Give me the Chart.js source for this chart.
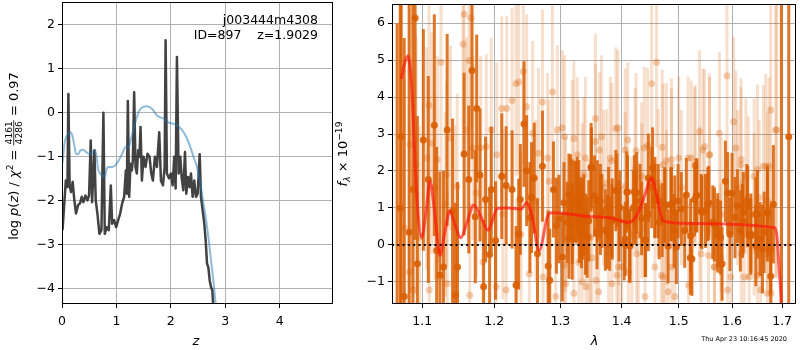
<!DOCTYPE html>
<html lang="en">
<head>
<meta charset="UTF-8">
<title>j003444m4308 redshift fit</title>
<script src="https://cdn.jsdelivr.net/npm/chart.js"></script>
<style>
    body { margin: 0; background: #fff; }
    #wrap { position: relative; width: 800px; height: 350px; }
    canvas { position: absolute; top: 0; }
    #pz { left: 0; }
    #spec { left: 330px; }
</style>
</head>
<body>
<div id="wrap">
    <canvas id="pz" width="340" height="350"></canvas>
    <canvas id="spec" width="470" height="350"></canvas>
</div>
<script>
// ---- left panel: log p(z) ----
const zMin = 0, zMax = 4.98;
const lnpMin = -4.357, lnpMax = 2.51;
const zTicks = [0, 1, 2, 3, 4];
const lnpTicks = [-4, -3, -2, -1, 0, 1, 2];

const zDark = [0.01,0.04,0.07,0.10,0.117,0.14,0.165,0.196,0.227,0.258,0.295,0.331,0.362,0.393,0.430,0.467,0.497,0.528,0.553,0.596,
    0.620,0.651,0.688,0.725,0.761,0.786,0.823,0.860,0.897,0.921,0.958,0.995,1.032,1.069,1.105,1.142,1.173,1.191,1.210,1.234,
    1.259,1.283,1.302,1.326,1.351,1.375,1.400,1.424,1.443,1.468,1.498,1.535,1.572,1.609,1.640,1.670,1.707,1.744,1.787,1.818,
    1.855,1.886,1.904,1.928,1.965,2.002,2.033,2.063,2.088,2.112,2.143,2.174,2.198,2.229,2.260,2.284,2.315,2.345,2.370,2.401,
    2.431,2.462,2.493,2.530,2.554,2.585,2.615,2.640,2.665,2.689,2.714,2.738,2.763,2.787,2.810];
const lnpDark = [-2.68,-2.11,-1.55,-1.70,0.42,-1.66,-1.81,-1.58,-2.00,-2.30,-2.11,-2.07,-1.92,-2.04,-1.89,-2.00,-1.89,-0.64,-2.04,-0.86,
    -2.00,-2.30,-2.76,-2.68,-0.01,-2.76,-2.61,-2.68,-1.66,-2.53,-2.45,-2.61,-2.45,-2.30,-2.07,-1.92,-1.32,-1.85,0.26,-1.92,
    -1.17,-1.32,-1.09,0.46,-1.24,-1.39,-0.86,-1.01,-0.33,-1.55,-1.01,-1.24,-0.94,-1.01,-1.39,-1.55,-1.01,-1.24,-0.45,-1.55,
    -1.66,-1.24,1.64,-1.39,-1.50,-1.39,-1.66,-1.01,-1.73,1.26,-1.39,-1.01,-1.47,-1.77,-0.90,-1.85,-1.47,-1.70,-1.39,-1.92,
    -1.55,-1.92,-1.85,-0.95,-1.92,-2.23,-2.53,-2.91,-3.44,-3.52,-3.82,-3.97,-4.05,-4.60,-5.00];

const zBlue = [0.01,0.047,0.096,0.145,0.18,0.22,0.258,0.295,0.344,0.393,0.442,0.491,0.553,0.596,0.627,0.663,0.700,0.737,0.786,0.823,
    0.860,0.921,0.983,1.044,1.105,1.167,1.228,1.277,1.326,1.375,1.424,1.486,1.547,1.609,1.670,1.744,1.805,1.879,1.959,2.051,
    2.143,2.223,2.284,2.358,2.419,2.480,2.542,2.591,2.640,2.689,2.738,2.787,2.824,2.850];
const lnpBlue = [-1.15,-0.70,-0.52,-0.45,-0.49,-0.70,-0.94,-0.95,-0.86,-0.85,-0.90,-0.94,-0.92,-0.86,-0.94,-1.28,-1.39,-1.43,-1.47,-1.28,
    -1.24,-1.24,-1.20,-1.09,-0.94,-0.79,-0.79,-0.56,-0.33,-0.11,0.05,0.12,0.14,0.12,0.06,-0.07,-0.11,-0.15,-0.23,-0.26,
    -0.32,-0.43,-0.56,-0.79,-1.02,-1.24,-1.62,-2.00,-2.38,-2.83,-3.36,-3.89,-4.36,-4.70];

// ---- right panel: spectrum ----
const waveMin = 1.0604, waveMax = 1.7288;
const fluxMin = -1.6, fluxMax = 6.52;
const waveTicks = [1.1, 1.2, 1.3, 1.4, 1.5, 1.6, 1.7];
const fluxTicks = [-1, 0, 1, 2, 3, 4, 5, 6];

const darkWave = [1.0670,1.0723,1.0762,1.0826,1.0905,1.0935,1.1014,1.1080,1.1161,1.1193,
    1.1237,1.1285,1.1336,1.1410,1.1450,1.1479,1.1570,1.1636,1.1682,1.1728,
    1.1748,1.1795,1.1847,1.1875,1.1933,1.1957,1.2019,1.2110,1.2174,1.2262,
    1.2321,1.2385,1.2440,1.2480,1.2530,1.2645,1.2721,1.2809,1.2834,1.2891,
    1.2938,1.2978,1.3030,1.3135,1.3188,1.3251,1.3304,1.3358,1.3428,1.3492,
    1.3547,1.3596,1.3645,1.3727,1.3781,1.3841,1.3902,1.3958,1.4043,1.4088,
    1.4144,1.4201,1.4258,1.4316,1.4402,1.4460,1.4518,1.4575,1.4633,1.4703,
    1.4750,1.4810,1.4870,1.4929,1.4989,1.5049,1.5110,1.5140,1.5213,1.5292,
    1.5335,1.5415,1.5495,1.5557,1.5663,1.5726,1.5809,1.5872,1.5916,1.5961,
    1.6000,1.6058,1.6162,1.6220,1.6304,1.6370,1.6468,1.6501,1.6600,1.6701,
    1.6768,1.6821,1.6985,1.7137,1.0710,1.0875,
    1.2360,1.2554,1.2595,1.3057,1.3108,1.3135,1.3162,1.3187,1.3198,1.3241,
    1.3267,1.3294,1.3321,1.3337,1.3374,1.3401,1.3454,1.3498,1.3589,1.3644,
    1.3671,1.3760,1.3800,1.3836,1.3920,1.3970,1.4060,1.4100,1.4133,1.4218,
    1.4240,1.4343,1.4412,1.4459,1.4534,1.4576,1.4650,1.4752,1.4858,1.4917,
    1.4958,1.5219,1.5243,1.5321,1.5427,1.5538,1.5632,1.5726,1.5780,1.6108,
    1.6205,1.6289,1.6368,1.6466,1.6554,1.6634,1.6700,1.6766];
const darkFlux = [-2.0,2.93,-1.40,0.34,6.14,-0.51,2.84,1.77,3.24,-0.15,
    -0.82,-0.60,3.11,0.92,-1.36,-0.60,2.46,1.77,4.72,0.76,
    3.69,1.89,-1.13,1.23,-0.26,1.50,0.12,1.86,1.61,1.50,
    -1.09,1.23,3.27,2.01,0.74,-0.24,2.13,-0.57,-0.96,1.50,
    0.52,0.70,-0.33,0.18,0.58,1.14,0.61,0.70,0.21,2.10,
    1.32,1.19,0.83,0.40,1.01,0.70,1.47,0.65,0.04,1.43,
    -0.02,1.01,1.41,1.19,0.13,1.81,1.55,1.28,1.19,0.67,
    1.10,-0.04,1.10,0.88,1.19,0.97,0.38,1.35,-0.35,1.23,
    1.34,0.92,0.92,1.14,0.55,0.25,-0.51,1.72,1.41,0.29,
    1.39,0.74,0.38,0.88,1.04,0.29,-0.02,0.83,-0.11,0.85,
    -0.85,1.10,-2.0,2.93,1.0,1.5,
    0.29,1.28,1.81,1.14,0.61,1.37,1.35,0.16,1.19,1.17,
    1.28,1.20,0.74,0.47,0.81,0.29,0.65,2.08,0.34,1.19,
    0.92,0.35,0.30,0.65,1.47,1.01,0.16,1.43,-0.02,1.44,
    1.01,0.72,0.13,0.83,2.08,1.20,0.61,1.05,1.10,0.38,
    -0.06,0.25,-0.38,1.34,0.88,1.10,0.61,0.40,0.20,1.05,
    0.65,1.19,0.25,0.83,0.16,0.34,0.88,-0.11];
const darkErr = [8,7,7,7,6,4,3,2.8,3,2.8,
    2.8,2.6,2.6,2.5,2.5,2.3,2.2,2.0,2.4,1.8,
    2.0,1.8,1.8,1.7,1.7,1.7,1.6,1.7,1.6,1.6,
    1.6,1.5,1.7,1.5,1.5,1.5,1.5,1.5,1.4,1.3,
    1.3,1.2,1.2,1.1,1.1,1.1,1.1,1.1,1.1,1.2,
    1.1,1.1,1.1,1.1,1.1,1.1,1.1,1.1,1.0,1.1,
    1.0,1.0,1.1,1.0,1.0,1.2,1.1,1.1,1.0,1.0,
    1.0,1.0,1.0,1.0,1.0,1.0,1.0,1.0,1.0,1.0,
    1.0,1.0,1.0,1.0,1.0,1.0,1.0,1.1,1.1,1.0,
    1.1,1.1,1.1,1.1,1.1,1.1,1.1,1.2,1.2,1.3,
    1.3,1.6,9,9,9,8,
    1.5,1.5,1.5,1.1,1.1,1.1,1.1,1.1,1.1,1.1,
    1.1,1.1,1.1,1.1,1.1,1.1,1.1,1.1,1.0,1.0,
    1.0,1.0,1.0,1.0,1.0,1.0,1.0,1.0,1.0,1.0,
    1.0,1.0,1.0,1.0,1.1,1.0,1.0,1.0,1.0,1.0,
    1.0,1.0,1.0,1.0,1.0,1.0,1.0,1.0,1.0,1.0,
    1.0,1.0,1.0,1.0,1.0,1.1,1.2,1.2];

const lightWave = [1.0762,1.0830,1.0838,1.0880,1.0917,1.0964,1.1058,1.1089,1.1093,1.1125,
    1.1170,1.1202,1.1251,1.1310,1.1327,1.1336,1.1382,1.1441,1.1474,1.1556,
    1.1570,1.1603,1.1640,1.1650,1.1668,1.1696,1.1743,1.1804,1.1837,1.1885,
    1.1957,1.2028,1.2038,1.2110,1.2125,1.2174,1.2184,1.2262,1.2321,1.2330,
    1.2361,1.2395,1.2430,1.2480,1.2520,1.2570,1.2620,1.2660,1.2721,1.2730,
    1.2799,1.2824,1.2876,1.2927,1.2952,1.3066,1.3082,1.3188,1.3214,1.3283,
    1.3347,1.3400,1.3410,1.3455,1.3563,1.3575,1.3662,1.3700,1.3808,1.3836,
    1.3902,1.3947,1.4003,1.4060,1.4173,1.4230,1.4345,1.4390,1.4402,1.4518,
    1.4604,1.4691,1.4721,1.4780,1.4870,1.4929,1.5001,1.5049,1.5170,1.5180,
    1.5305,1.5385,1.5446,1.5569,1.5663,1.5758,1.5790,1.5903,1.5916,1.6032,
    1.6110,1.6175,1.6239,1.6318,1.6435,1.6501,1.6566,1.6667,1.6701,1.6768,
    1.6775,1.6868,
    1.3030,1.3057,1.3083,1.3214,1.3267,1.3294,1.3346,1.3374,1.3482,1.3508,
    1.3563,1.3617,1.3628,1.3753,1.3781,1.3836,1.3919,1.3936,1.3947,1.4060,
    1.4104,1.4116,1.4247,1.4257,1.4286,1.4343,1.4447,1.4576,1.4634,1.4704,
    1.4721,1.4752,1.4780,1.4810,1.4869,1.4875,
    1.5230,1.5292,1.5384,1.5414,1.5477,1.5551,1.5571,1.5664,1.5788,1.5979,
    1.6075,1.6173,1.6180,1.6270,1.6336,1.6435,1.6500,1.6534,1.6620,1.6700,
    1.6734,1.6888];
const lightFlux = [0.47,-0.73,2.71,-1.22,2.17,0.21,2.35,3.78,-1.22,2.75,
    1.55,2.31,4.94,1.10,1.90,-1.05,2.89,0.74,1.59,5.43,
    6.24,3.11,4.99,-1.36,6.15,2.62,1.41,2.62,-0.46,2.66,
    3.11,-1.13,2.44,3.69,0.83,-1.22,3.69,3.91,4.36,-1.05,
    4.41,0.29,4.69,3.74,-0.78,3.02,1.19,2.48,3.87,-0.87,
    2.35,1.72,4.14,-1.40,3.11,2.93,0.83,2.26,-1.31,1.72,
    1.19,2.35,-1.13,0.21,3.42,-0.96,2.93,1.55,2.35,-1.05,
    3.15,1.01,-0.60,2.57,0.29,2.04,1.19,2.62,-1.40,4.36,
    4.94,-0.82,2.17,1.01,2.31,-1.40,2.35,1.55,2.35,-1.09,
    2.13,1.10,2.57,2.44,-0.60,3.02,0.83,4.58,-1.22,3.33,
    1.55,2.31,-0.87,1.28,0.83,2.04,-1.22,2.13,1.19,3.65,
    -1.31,3.11,
    3.17,-0.55,-1.05,2.88,2.44,-0.47,-1.00,1.90,0.20,-0.35,
    2.80,-1.27,2.57,1.68,0.29,2.28,-0.82,3.17,-0.60,1.59,
    2.84,-0.73,2.55,-0.24,0.25,1.86,2.69,-0.60,1.68,2.64,
    -0.87,0.12,2.28,-1.27,2.13,-0.60,
    2.35,2.17,3.07,-0.24,2.66,-0.29,2.44,-0.60,-0.33,-0.87,
    2.62,2.17,-0.24,1.86,-0.87,1.86,-0.82,1.28,2.13,-1.31,
    2.13,3.11];
const lightErr = [4,4,4,3.5,3.5,3,3,3,3,3,
    2.5,2.8,3,2.5,2.5,2.5,2.5,2.5,2.5,3,
    3,2.5,3,2.5,3,2.5,2.3,2.5,2.3,2.5,
    2.5,2.3,2.5,2.5,2.3,2.3,2.5,2.5,2.5,2.3,
    2.5,2.2,2.5,2.5,2.2,2.5,2.2,2.3,2.5,2.2,
    2.3,2.2,2.5,2.2,2.3,2.2,2.1,2.2,2.2,2.2,
    2.1,2.2,2.2,2.1,2.3,2.2,2.2,2.1,2.2,2.2,
    2.2,2.1,2.2,2.2,2.1,2.2,2.1,2.2,2.2,2.2,
    2.3,2.2,2.2,2.1,2.2,2.2,2.2,2.1,2.2,2.2,
    2.2,2.1,2.2,2.2,2.2,2.2,2.1,2.5,2.2,2.3,
    2.1,2.2,2.2,2.2,2.2,2.3,2.3,2.5,2.4,3,
    2.5,4,
    2.1,2.1,2.1,2.1,2.1,2.1,2.1,2.1,2.0,2.0,
    2.1,2.1,2.1,2.0,2.0,2.1,2.0,2.1,2.0,2.0,
    2.1,2.0,2.1,2.0,2.0,2.0,2.1,2.0,2.0,2.1,
    2.0,2.0,2.1,2.1,2.1,2.0,
    2.1,2.1,2.2,2.0,2.1,2.0,2.1,2.0,2.0,2.1,
    2.1,2.1,2.0,2.1,2.1,2.1,2.1,2.1,2.2,2.3,
    2.4,4];

const modelWave = [1.0723,1.0760,1.0810,1.0862,1.0918,1.0993,1.1050,1.1103,1.1170,1.1237,
    1.1300,1.1373,1.1450,1.1524,1.1610,1.1706,1.1800,1.1908,1.2052,1.2200,
    1.2395,1.2479,1.2565,1.2671,1.2813,1.2875,1.3535,1.3781,1.4116,1.4257,
    1.4402,1.4516,1.4603,1.4721,1.5170,1.6835,1.6888,1.6936,1.6983,1.7010];
const modelFlux = [4.49,4.85,5.12,4.20,1.64,0.20,0.90,1.72,0.80,-0.29,
    0.30,0.92,0.50,0.19,0.60,1.08,0.80,0.40,0.99,1.00,
    0.97,1.14,0.75,-0.15,0.83,0.87,0.76,0.74,0.61,0.79,
    1.37,1.81,1.37,0.65,0.58,0.47,0.30,-0.60,-1.60,-3.00];

const FONT = '"DejaVu Sans", sans-serif';
const TICK_SIZE = 12.5;

function fnt(size, italic) {
    return (italic ? 'italic ' : '') + size + 'px ' + FONT;
}

function minus(v) {
    return String(v).replace('-', '\u2212');
}

// mathtext-ish label: list of pieces drawn side by side, centred on (x, y) baseline
function drawMath(ctx, parts, x, y, angle, size) {
    const small = size * 0.7;
    ctx.save();
    ctx.translate(x, y);
    ctx.rotate(angle);
    ctx.fillStyle = '#000';
    ctx.strokeStyle = '#000';
    ctx.textBaseline = 'alphabetic';
    ctx.textAlign = 'left';
    const widths = parts.map(p => {
        if (p.frac) {
            ctx.font = fnt(small);
            return Math.max(ctx.measureText(p.frac[0]).width, ctx.measureText(p.frac[1]).width) + 2;
        }
        ctx.font = fnt(p.sup || p.sub ? small : size, p.it);
        return ctx.measureText(p.t).width;
    });
    let cx = -widths.reduce((a, b) => a + b, 0) / 2;
    parts.forEach((p, i) => {
        if (p.frac) {
            const axis = -size * 0.33;
            ctx.font = fnt(small);
            ctx.textAlign = 'center';
            ctx.fillText(p.frac[0], cx + widths[i] / 2, axis - 1.5);
            ctx.fillText(p.frac[1], cx + widths[i] / 2, axis + 1.5 + small * 0.73);
            ctx.textAlign = 'left';
            ctx.lineWidth = 0.8;
            ctx.beginPath();
            ctx.moveTo(cx, axis);
            ctx.lineTo(cx + widths[i], axis);
            ctx.stroke();
        } else {
            ctx.font = fnt(p.sup || p.sub ? small : size, p.it);
            const dy = p.sup ? -size * 0.38 : (p.sub ? size * 0.22 : 0);
            ctx.fillText(p.t, cx, dy);
        }
        cx += widths[i];
    });
    ctx.restore();
}

function frameBox(chart) {
    const { ctx, chartArea: a } = chart;
    ctx.save();
    ctx.strokeStyle = '#000';
    ctx.lineWidth = 1;
    ctx.strokeRect(Math.round(a.left) + 0.5, Math.round(a.top) + 0.5,
        Math.round(a.right - a.left) - 1, Math.round(a.bottom - a.top) - 1);
    ctx.restore();
}

function axis(min, max, ticks, fmt, pad, extra) {
    return Object.assign({
        min: min,
        max: max,
        afterBuildTicks: s => { s.ticks = ticks.map(v => ({ value: v })); },
        grid: { color: '#b0b0b0', lineWidth: 1, tickColor: '#000', tickLength: 4 },
        border: { display: false },
        ticks: { color: '#000', font: { family: FONT, size: TICK_SIZE }, padding: pad,
                 maxRotation: 0, autoSkip: false, callback: v => fmt(v) }
    }, extra);
}

const xFit = s => { s.height = 46; s.paddingLeft = 0; s.paddingRight = 0; };
const yFit = s => { s.width = 62; s.paddingTop = 0; s.paddingBottom = 0; };

// ---- p(z) chart ----
new Chart(document.getElementById('pz'), {
    type: 'line',
    data: {
        datasets: [{
            data: zDark.map((z, i) => ({ x: z, y: lnpDark[i] })),
            borderColor: 'rgba(45,45,45,0.9)',
            borderWidth: 2.5,
            borderJoinStyle: 'round',
            pointRadius: 0,
            order: 2
        }, {
            data: zBlue.map((z, i) => ({ x: z, y: lnpBlue[i] })),
            borderColor: 'rgba(31,119,180,0.5)',
            borderWidth: 2,
            pointRadius: 0,
            tension: 0.4,
            cubicInterpolationMode: 'monotone',
            order: 1
        }]
    },
    options: {
        responsive: false,
        animation: false,
        layout: { padding: { left: 0, right: 7, top: 2, bottom: 0 } },
        plugins: { legend: { display: false }, tooltip: { enabled: false } },
        scales: {
            x: axis(zMin, zMax, zTicks, minus, 6, { type: 'linear', afterFit: xFit }),
            y: axis(lnpMin, lnpMax, lnpTicks, minus, 3, { type: 'linear', afterFit: yFit })
        }
    },
    plugins: [{
        id: 'pzDecor',
        afterDraw(chart) {
            frameBox(chart);
            const ctx = chart.ctx;
            ctx.save();
            ctx.fillStyle = '#000';
            ctx.font = fnt(12.5);
            ctx.textAlign = 'right';
            ctx.textBaseline = 'alphabetic';
            ctx.fillText('j003444m4308', 318, 24);
            ctx.fillText('ID=897    z=1.9029', 318, 39);
            ctx.restore();
            drawMath(ctx, [{ t: 'z', it: true }], 196, 345, 0, 13);
            drawMath(ctx, [
                { t: 'log ' }, { t: 'p', it: true }, { t: '(' }, { t: 'z', it: true },
                { t: ') / ' }, { t: '\u03c7', it: true }, { t: '2', sup: true }, { t: ' = ' },
                { frac: ['4161', '4286'] }, { t: ' = 0.97' }
            ], 18, 156, -Math.PI / 2, 13);
        }
    }]
});

// ---- spectrum chart ----
const errorBars = {
    id: 'errorBars',
    beforeDatasetDraw(chart, args) {
        const ds = chart.data.datasets[args.index];
        if (!ds.errors) return;
        const { ctx, chartArea: a } = chart;
        const xs = chart.scales.x, ys = chart.scales.y;
        ctx.save();
        ctx.beginPath();
        ctx.rect(a.left, a.top, a.right - a.left, a.bottom - a.top);
        ctx.clip();
        ctx.strokeStyle = ds.errorColor;
        ctx.lineWidth = 3;
        ds.data.forEach((p, i) => {
            const px = xs.getPixelForValue(p.x);
            ctx.beginPath();
            ctx.moveTo(px, ys.getPixelForValue(p.y - ds.errors[i]));
            ctx.lineTo(px, ys.getPixelForValue(p.y + ds.errors[i]));
            ctx.stroke();
        });
        ctx.restore();
    }
};

new Chart(document.getElementById('spec'), {
    type: 'scatter',
    data: {
        datasets: [{
            data: lightWave.map((w, i) => ({ x: w, y: lightFlux[i] })),
            errors: lightErr,
            errorColor: 'rgba(217,95,2,0.2)',
            backgroundColor: 'rgba(217,95,2,0.3)',
            pointRadius: 3.5,
            pointBorderWidth: 0,
            order: 4
        }, {
            data: darkWave.map((w, i) => ({ x: w, y: darkFlux[i] })),
            errors: darkErr,
            errorColor: 'rgba(217,95,2,0.85)',
            backgroundColor: 'rgba(217,95,2,0.9)',
            pointRadius: 3.5,
            pointBorderWidth: 0,
            order: 3
        }, {
            type: 'line',
            data: modelWave.map((w, i) => ({ x: w, y: modelFlux[i] })),
            borderColor: 'rgba(255,20,10,0.65)',
            borderWidth: 3,
            pointRadius: 0,
            tension: 0.4,
            cubicInterpolationMode: 'monotone',
            order: 2
        }, {
            type: 'line',
            data: [{ x: waveMin, y: 0 }, { x: waveMax, y: 0 }],
            borderColor: '#000',
            borderWidth: 2,
            borderDash: [2, 3.3],
            pointRadius: 0,
            order: 1
        }]
    },
    options: {
        responsive: false,
        animation: false,
        layout: { padding: { left: 0, right: 1, top: 2, bottom: 0 } },
        plugins: { legend: { display: false }, tooltip: { enabled: false } },
        scales: {
            x: axis(waveMin, waveMax, waveTicks, v => v.toFixed(1), 6, { type: 'logarithmic', afterFit: xFit }),
            y: axis(fluxMin, fluxMax, fluxTicks, minus, 3, { type: 'linear', afterFit: yFit })
        }
    },
    plugins: [errorBars, {
        id: 'specDecor',
        afterDraw(chart) {
            frameBox(chart);
            const ctx = chart.ctx;
            drawMath(ctx, [{ t: '\u03bb', it: true }], 264.7, 345, 0, 13);
            drawMath(ctx, [
                { t: 'f', it: true }, { t: '\u03bb', it: true, sub: true },
                { t: ' \u00d7 10' }, { t: '\u221219', sup: true }
            ], 17, 154, -Math.PI / 2, 13);
            ctx.save();
            ctx.fillStyle = '#000';
            ctx.font = fnt(6.5);
            ctx.textAlign = 'right';
            ctx.fillText('Thu Apr 23 10:16:45 2020', 457, 341);
            ctx.restore();
        }
    }]
});
</script>
</body>
</html>
